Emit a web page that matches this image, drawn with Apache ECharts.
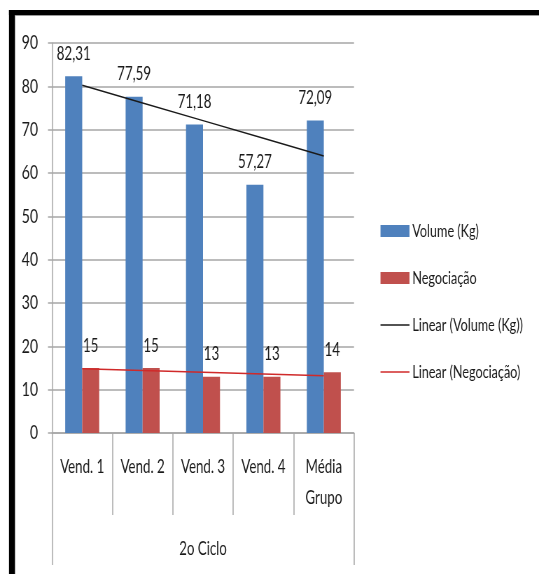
<!DOCTYPE html>
<html>
<head>
<meta charset="utf-8">
<script src="https://cdn.jsdelivr.net/npm/echarts@6/dist/echarts.min.js"></script>
<style>
  html, body { margin: 0; padding: 0; background: #ffffff; overflow: hidden; }
  /* the chart is drawn wide and condensed horizontally, giving the narrow lettering */
  #chart { width: 770px; height: 574px; transform: scaleX(0.7); transform-origin: 0 0; }
</style>
</head>
<body>
<div id="chart"></div>
<script>
// Sellers in the second cycle
const categories = ['Vend. 1', 'Vend. 2', 'Vend. 3', 'Vend. 4', 'Média\nGrupo'];
const groupLabel = ['2o Ciclo'];

// Bar values
const volumeKg = [82.31, 77.59, 71.18, 57.27, 72.09];
const negociacao = [15, 15, 13, 13, 14];

// Linear trend lines, one value per category
const trendVolume = [80.24, 76.16, 72.09, 68.01, 63.94];
const trendNegociacao = [14.8, 14.4, 14.0, 13.6, 13.2];

// Y axis ticks
const yTicks = { min: 0, max: 90, step: 10 };

const SX = 0.7;                    // horizontal condensing of the drawing
const px = v => v / SX;            // horizontal page pixels -> drawing units
const FONT = "Lato, 'Liberation Sans', sans-serif";
const GRID_GRAY = '#a6a6a6';
const TEXT = '#1a1a1a';

const ICON_W = px(29);
const ICON_H = 12;
// thin horizontal stroke across the legend icon box (the outer points fix the box)
const LINE_ICON = 'path://M0,0 L0,0 M0,5.25 L' + ICON_W + ',5.25 L' + ICON_W + ',6.75 L0,6.75 Z M'
  + ICON_W + ',' + ICON_H + ' L' + ICON_W + ',' + ICON_H;

const chart = echarts.init(document.getElementById('chart'), null, { renderer: 'canvas' });

chart.setOption({
  animation: false,
  backgroundColor: '#ffffff',
  textStyle: { fontFamily: FONT },
  grid: { left: px(52), right: px(185), top: 43, bottom: 141, containLabel: false },
  graphic: [
    { type: 'rect', shape: { x: px(9), y: 10, width: px(6), height: 564 }, style: { fill: '#000' }, z: 100 },
    { type: 'rect', shape: { x: px(9), y: 10, width: px(530), height: 5 }, style: { fill: '#000' }, z: 100 },
    { type: 'rect', shape: { x: px(15), y: 15, width: px(524), height: 1 }, style: { fill: '#9a9a9a' }, z: 100 }
  ],
  legend: {
    orient: 'vertical',
    left: px(377),
    top: 217,
    itemWidth: ICON_W,
    itemHeight: ICON_H,
    itemGap: 29,
    textStyle: { fontFamily: FONT, fontSize: 18, color: TEXT, lineHeight: 18, padding: [0, 0, 0, -1] },
    data: [
      { name: 'Volume (Kg)', icon: 'rect' },
      { name: 'Negociação', icon: 'rect' },
      { name: 'Linear (Volume (Kg))', icon: LINE_ICON },
      { name: 'Linear (Negociação)', icon: LINE_ICON }
    ]
  },
  xAxis: [
    {
      type: 'category',
      data: categories,
      position: 'bottom',
      axisLine: { show: true, lineStyle: { color: GRID_GRAY, width: 1.5 } },
      axisTick: { show: true, length: 82, lineStyle: { color: GRID_GRAY, width: 1.5 } },
      axisLabel: { fontFamily: FONT, fontSize: 19, color: TEXT, margin: 18, lineHeight: 31, interval: 0 }
    },
    {
      type: 'category',
      data: groupLabel,
      position: 'bottom',
      offset: 82,
      axisLine: { show: false },
      axisTick: { show: true, length: 50, lineStyle: { color: GRID_GRAY, width: 1.5 } },
      axisLabel: { fontFamily: FONT, fontSize: 19, color: TEXT, margin: 24, lineHeight: 19 }
    }
  ],
  yAxis: {
    type: 'value',
    min: yTicks.min,
    max: yTicks.max,
    interval: yTicks.step,
    axisLine: { show: true, lineStyle: { color: GRID_GRAY, width: 1.5 } },
    axisTick: { show: true, length: px(4), lineStyle: { color: GRID_GRAY, width: 1.5 } },
    axisLabel: { fontFamily: FONT, fontSize: 20, color: TEXT, margin: px(14) },
    splitLine: { show: true, lineStyle: { color: GRID_GRAY, width: 1.5 } }
  },
  series: [
    {
      name: 'Volume (Kg)',
      type: 'bar',
      data: volumeKg,
      barWidth: px(17),
      barGap: '0%',
      itemStyle: { color: '#4f81bd' },
      label: {
        show: true,
        position: 'top',
        distance: 13,
        fontFamily: FONT,
        fontSize: 19,
        color: TEXT,
        formatter: p => p.value.toFixed(2).replace('.', ',')
      }
    },
    {
      name: 'Negociação',
      type: 'bar',
      data: negociacao,
      barWidth: px(17),
      barGap: '0%',
      itemStyle: { color: '#c0504d' },
      label: {
        show: true,
        position: 'top',
        distance: 13,
        fontFamily: FONT,
        fontSize: 19,
        color: TEXT
      }
    },
    {
      name: 'Linear (Volume (Kg))',
      type: 'line',
      data: trendVolume,
      symbol: 'none',
      z: 5,
      lineStyle: { color: '#1a1a1a', width: 1.5 },
      itemStyle: { color: '#1a1a1a' }
    },
    {
      name: 'Linear (Negociação)',
      type: 'line',
      data: trendNegociacao,
      symbol: 'none',
      z: 5,
      lineStyle: { color: '#d02a2a', width: 1.5 },
      itemStyle: { color: '#d02a2a' }
    }
  ]
});
</script>
</body>
</html>
